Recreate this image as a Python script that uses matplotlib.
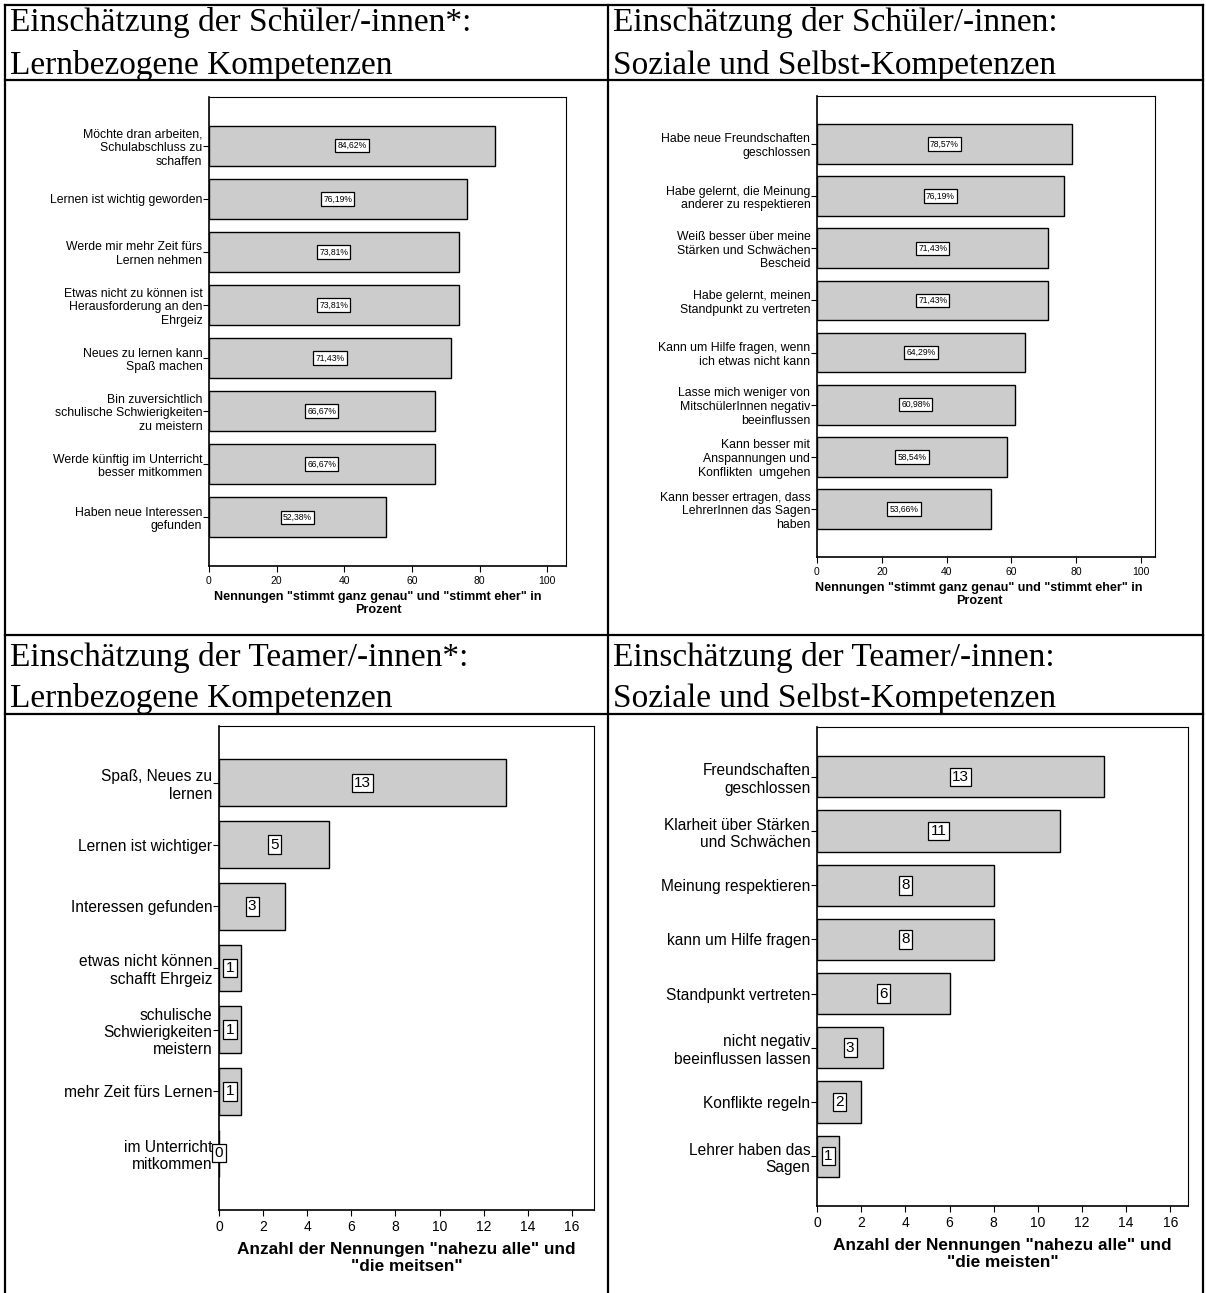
import matplotlib
matplotlib.use("Agg")
import matplotlib.pyplot as plt
from matplotlib.lines import Line2D

plt.rcParams["font.family"] = ["Liberation Sans", "DejaVu Sans"]

# Schüler/-innen: lernbezogene Kompetenzen (Prozent)
stud_lern_labels = [
    "Möchte dran arbeiten,\nSchulabschluss zu\nschaffen",
    "Lernen ist wichtig geworden",
    "Werde mir mehr Zeit fürs\nLernen nehmen",
    "Etwas nicht zu können ist\nHerausforderung an den\nEhrgeiz",
    "Neues zu lernen kann\nSpaß machen",
    "Bin zuversichtlich\nschulische Schwierigkeiten\nzu meistern",
    "Werde künftig im Unterricht\nbesser mitkommen",
    "Haben neue Interessen\ngefunden",
]
stud_lern_vals = [84.62, 76.19, 73.81, 73.81, 71.43, 66.67, 66.67, 52.38]

# Schüler/-innen: soziale und Selbst-Kompetenzen (Prozent)
stud_soz_labels = [
    "Habe neue Freundschaften\ngeschlossen",
    "Habe gelernt, die Meinung\nanderer zu respektieren",
    "Weiß besser über meine\nStärken und Schwächen\nBescheid",
    "Habe gelernt, meinen\nStandpunkt zu vertreten",
    "Kann um Hilfe fragen, wenn\nich etwas nicht kann",
    "Lasse mich weniger von\nMitschülerInnen negativ\nbeeinflussen",
    "Kann besser mit\nAnspannungen und\nKonflikten  umgehen",
    "Kann besser ertragen, dass\nLehrerInnen das Sagen\nhaben",
]
stud_soz_vals = [78.57, 76.19, 71.43, 71.43, 64.29, 60.98, 58.54, 53.66]

# Teamer/-innen: lernbezogene Kompetenzen (Anzahl)
team_lern_labels = [
    "Spaß, Neues zu\nlernen",
    "Lernen ist wichtiger",
    "Interessen gefunden",
    "etwas nicht können\nschafft Ehrgeiz",
    "schulische\nSchwierigkeiten\nmeistern",
    "mehr Zeit fürs Lernen",
    "im Unterricht\nmitkommen",
]
team_lern_vals = [13, 5, 3, 1, 1, 1, 0]

# Teamer/-innen: soziale und Selbst-Kompetenzen (Anzahl)
team_soz_labels = [
    "Freundschaften\ngeschlossen",
    "Klarheit über Stärken\nund Schwächen",
    "Meinung respektieren",
    "kann um Hilfe fragen",
    "Standpunkt vertreten",
    "nicht negativ\nbeeinflussen lassen",
    "Konflikte regeln",
    "Lehrer haben das\nSagen",
]
team_soz_vals = [13, 11, 8, 8, 6, 3, 2, 1]

pct_ticks = [0, 20, 40, 60, 80, 100]
count_ticks = [0, 2, 4, 6, 8, 10, 12, 14, 16]

W, H = 1206, 1293
fig = plt.figure(figsize=(W / 100, H / 100), dpi=100)


def rect(x0, y0, x1, y1):
    return [x0 / W, 1 - y1 / H, (x1 - x0) / W, (y1 - y0) / H]


def panel(box, labels, values, xmax, ticks, xlabel, fmt, sz, label_under_ticks):
    lab_fs, tick_fs, val_fs, xl_fs, pad, xl_pad, xl_ls = sz
    ax = fig.add_axes(rect(*box))
    pos = list(range(len(values)))
    ax.barh(pos, values, height=0.76, color="#cccccc", edgecolor="black",
            linewidth=1.0, zorder=2)
    ax.set_xlim(0, xmax)
    ax.set_ylim(len(values) - 1 + 0.92, -0.92)
    ax.set_yticks(pos)
    ax.set_yticklabels(labels, fontsize=lab_fs, ha="right", multialignment="right")
    ax.set_xticks(ticks)
    ax.set_xticklabels([str(t) for t in ticks], fontsize=tick_fs)
    ax.tick_params(axis="y", length=4.5, width=0.8, pad=0.3)
    ax.tick_params(axis="x", length=4.5, width=0.8, pad=2.5)
    for s in ax.spines.values():
        s.set_linewidth(0.8)
    ax.spines["left"].set_linewidth(1.2)
    ax.spines["bottom"].set_linewidth(1.2)
    for p, v in zip(pos, values):
        ax.text(v / 2, p, fmt(v), ha="center", va="center", fontsize=val_fs, zorder=3,
                bbox=dict(boxstyle=f"square,pad={pad}", fc="white", ec="black", lw=0.9))
    ax.set_xlabel(xlabel, fontsize=xl_fs, fontweight="bold", labelpad=xl_pad,
                  linespacing=xl_ls)
    if label_under_ticks:
        # percent charts: title centred under the tick range
        ax.xaxis.label.set_x((ticks[0] + ticks[-1]) / 2 / xmax)
    return ax


def pct(v):
    return f"{v:.2f}%".replace(".", ",")


top_sz = (8.8, 7.5, 6.2, 9.1, 0.25, 4, 1.05)
bot_sz = (11.2, 10, 11, 12.4, 0.15, 6, 1.15)

panel((209, 97, 566, 566), stud_lern_labels, stud_lern_vals, 105.5, pct_ticks,
      'Nennungen "stimmt ganz genau" und "stimmt eher" in\nProzent', pct, top_sz, True)
panel((817, 96, 1155, 557), stud_soz_labels, stud_soz_vals, 104.3, pct_ticks,
      'Nennungen "stimmt ganz genau" und "stimmt eher" in\nProzent', pct, top_sz, True)
panel((219, 726, 594, 1210), team_lern_labels, team_lern_vals, 17.0, count_ticks,
      'Anzahl der Nennungen "nahezu alle" und\n"die meitsen"', str, bot_sz, False)
panel((817, 727, 1188, 1206), team_soz_labels, team_soz_vals, 16.8, count_ticks,
      'Anzahl der Nennungen "nahezu alle" und\n"die meisten"', str, bot_sz, False)

# table grid
def hline(y, x0=5, x1=1203):
    fig.add_artist(Line2D([x0 / W, x1 / W], [1 - y / H, 1 - y / H], color="black", lw=1.6))


def vline(x, y0=5, y1=1293):
    fig.add_artist(Line2D([x / W, x / W], [1 - y0 / H, 1 - y1 / H], color="black", lw=1.6))


for y in (5, 80, 635, 714):
    hline(y)
for x in (5, 608, 1203):
    vline(x)

headers = [
    (10, 31, "Einschätzung der Schüler/-innen*:"),
    (10, 74, "Lernbezogene Kompetenzen"),
    (613, 31, "Einschätzung der Schüler/-innen:"),
    (613, 74, "Soziale und Selbst-Kompetenzen"),
    (10, 666, "Einschätzung der Teamer/-innen*:"),
    (10, 707, "Lernbezogene Kompetenzen"),
    (613, 666, "Einschätzung der Teamer/-innen:"),
    (613, 707, "Soziale und Selbst-Kompetenzen"),
]
for x, y, s in headers:
    fig.text(x / W, 1 - y / H, s, fontsize=24, family="Liberation Serif",
             ha="left", va="baseline")

fig.savefig("out.png", dpi=100)
